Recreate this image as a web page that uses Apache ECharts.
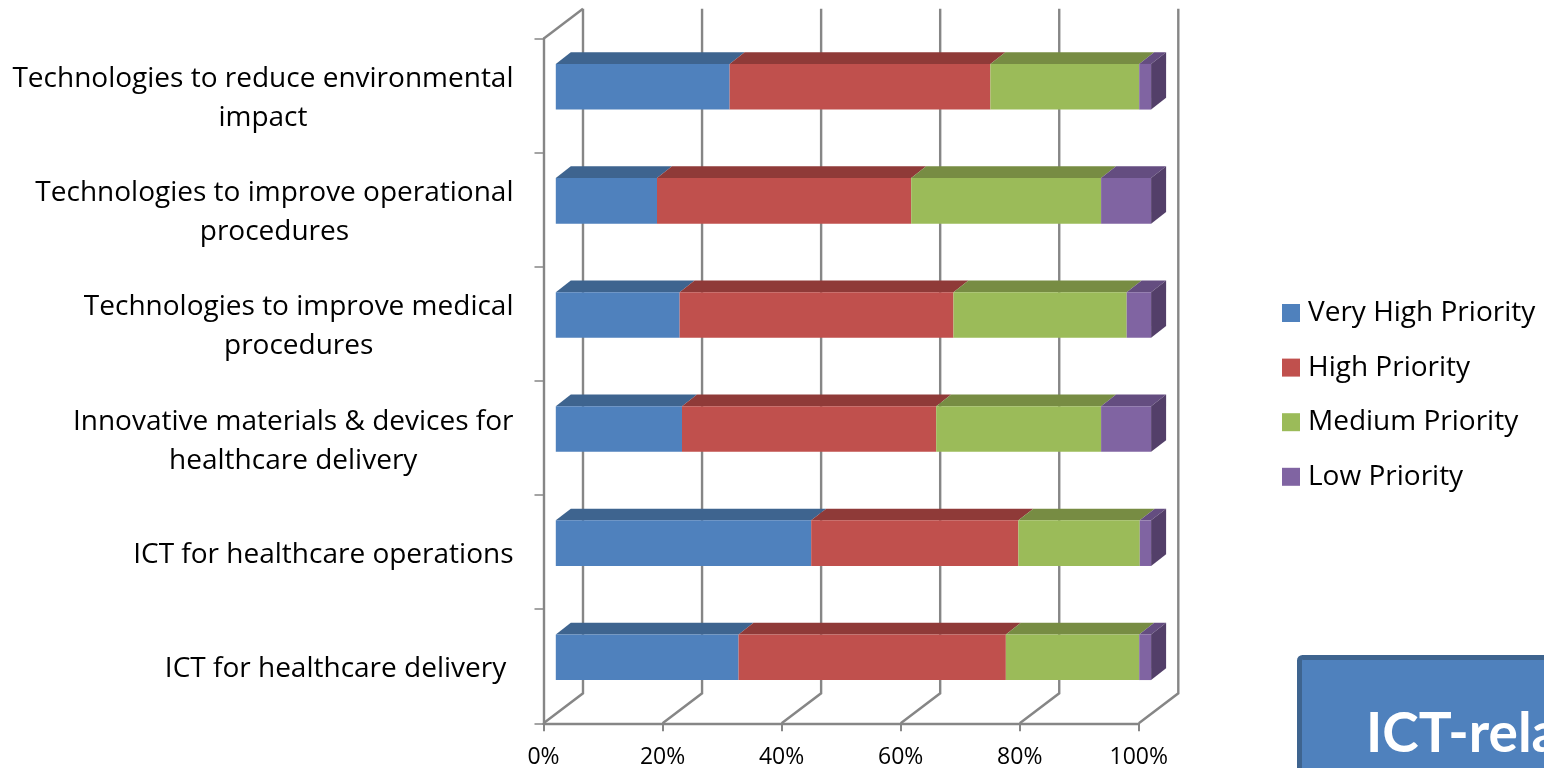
<!DOCTYPE html>
<html><head><meta charset="utf-8">
<style>html,body{margin:0;padding:0;background:#fff;overflow:hidden}#c{width:1544px;height:768px}</style>
<script src="https://cdn.jsdelivr.net/npm/echarts@6/dist/echarts.min.js"></script>
</head><body><div id="c"></div>
<script>
const categories = [
  "Technologies to reduce environmental\nimpact",
  "Technologies to improve operational\nprocedures",
  "Technologies to improve medical\nprocedures",
  "Innovative materials & devices for\nhealthcare delivery",
  "ICT for healthcare operations",
  "ICT for healthcare delivery\u00a0"
];
const seriesNames = ["Very High Priority","High Priority","Medium Priority","Low Priority"];
const veryHigh = [29.2, 17.0, 20.8, 21.2, 42.9, 30.7];
const high     = [43.8, 42.7, 46.0, 42.7, 34.8, 44.9];
const medium   = [25.0, 31.9, 29.1, 27.7, 20.4, 22.4];
const low      = [ 2.0,  8.4,  4.1,  8.4,  1.9,  2.0];
const xTicks   = [0, 20, 40, 60, 80, 100];
const calloutText = "ICT-related";

const FRONT = ["#4f81bd","#c0504d","#9bbb59","#8064a2"];
const TOP   = ["#3e648f","#8f3a38","#778c43","#644d80"];
const SIDE  = "#533f69";
const GRID  = "#868686";
const FONT  = "Open Sans";
const BAR = {dx:12.3, dy:-9, depthX:15, depthY:-11.7};
const WALL = {dx:39.5, dy:-30};

const values = [veryHigh, high, medium, low];
const stacked = values.map((arr,s)=>arr.map((v,i)=>{
  let start=0; for(let k=0;k<s;k++) start+=values[k][i];
  return [start,start+v,i];
}));

function wallItem(params, api){
  const cs = params.coordSys, x = api.coord([api.value(0),0])[0];
  const bottom = cs.y+cs.height, top = cs.y;
  const line = {stroke:GRID, lineWidth:2.4, fill:null};
  const kids = [
    {type:'polyline', shape:{points:[[x,bottom],[x+WALL.dx,bottom+WALL.dy],[x+WALL.dx,top+WALL.dy]]}, style:line}
  ];
  if(api.value(0)===0) kids.push({type:'line', shape:{x1:x,y1:top,x2:x+WALL.dx,y2:top+WALL.dy}, style:line});
  return {type:'group', children:kids};
}
function barItem(idx){
  return function(params, api){
    const a = api.coord([api.value(0),api.value(2)]);
    const b = api.coord([api.value(1),api.value(2)]);
    const h = api.size([0,1])[1]*0.4;
    const x0=a[0]+BAR.dx, x1=b[0]+BAR.dx, y0=a[1]+BAR.dy-h/2, y1=y0+h;
    const kids = [
      {type:'polygon', shape:{points:[[x0,y0],[x1,y0],[x1+BAR.depthX,y0+BAR.depthY],[x0+BAR.depthX,y0+BAR.depthY]]}, style:{fill:TOP[idx]}},
      {type:'rect', shape:{x:x0,y:y0,width:x1-x0,height:h}, style:{fill:FRONT[idx]}}
    ];
    if(idx===3) kids.push({type:'polygon', shape:{points:[[x1,y0],[x1+BAR.depthX,y0+BAR.depthY],[x1+BAR.depthX,y1+BAR.depthY],[x1,y1]]}, style:{fill:SIDE}});
    return {type:'group', children:kids};
  };
}

const chart = echarts.init(document.getElementById('c'), null, {renderer:'canvas'});
chart.setOption({
  animation:false,
  backgroundColor:'#fff',
  textStyle:{fontFamily:FONT},
  grid:{left:543.5, top:38.7, width:595.3, height:684.6, outerBoundsMode:'none'},
  xAxis:{type:'value', min:0, max:100, interval:20, splitLine:{show:false},
    axisLine:{show:true,lineStyle:{color:GRID,width:2.4}},
    axisTick:{show:true,length:8,lineStyle:{color:GRID,width:2}},
    axisLabel:{color:'#000',fontFamily:FONT,fontSize:23,margin:23,formatter:'{value}%',hideOverlap:false}},
  yAxis:{type:'category', inverse:true, data:categories,
    axisLine:{show:true,lineStyle:{color:GRID,width:2.4}},
    axisTick:{show:true,length:9,lineStyle:{color:GRID,width:1.5}},
    axisLabel:{color:'#000',margin:30,interval:0,padding:[6,0,0,0],
      formatter:v=>v.split('\n').map(l=>'{a|'+l+'}').join('\n'),
      rich:{a:{fontFamily:FONT,fontSize:28,lineHeight:39,align:'center',color:'#000'}}}},
  legend:{orient:'vertical', left:1282, top:299, padding:0, itemWidth:18, itemHeight:18, itemGap:26.6,
    icon:'rect', data:seriesNames, textStyle:{fontFamily:FONT,fontSize:28,color:'#000',padding:[0,0,0,3]}},
  series:[
    {type:'custom', name:'wall', silent:true, z:1, data:xTicks.map(v=>[v,0]), encode:{x:0,y:1}, renderItem:wallItem, clip:false},
    ...seriesNames.map((n,i)=>({type:'custom', name:n, z:3, itemStyle:{color:FRONT[i]},
      data:stacked[i], encode:{x:[0,1],y:2}, renderItem:barItem(i), clip:false}))
  ],
  graphic:[
    {type:'rect', z:10, shape:{x:1299.5,y:657.5,width:300,height:160,r:3}, style:{fill:'#4f81bd',stroke:'#3e648f',lineWidth:5}},
    {type:'text', z:11, style:{x:1366,y:734,text:calloutText,fill:'#fff',font:'bold 55px Lato',textVerticalAlign:'middle'}}
  ]
});
</script></body></html>
